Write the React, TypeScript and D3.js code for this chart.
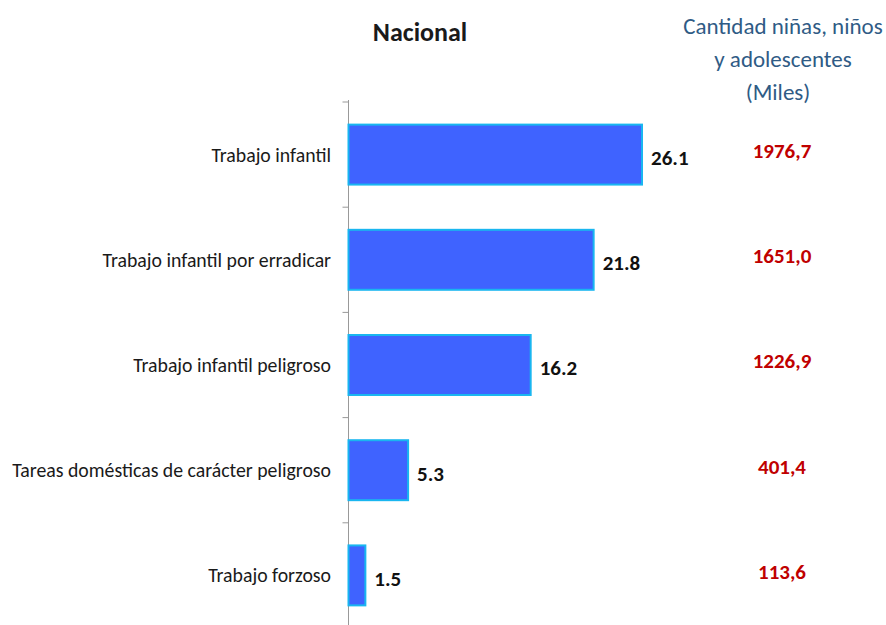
import React from "react";
import * as d3 from "d3";

const categories = [
  "Trabajo infantil",
  "Trabajo infantil por erradicar",
  "Trabajo infantil peligroso",
  "Tareas domésticas de carácter peligroso",
  "Trabajo forzoso",
];
const percentages = [26.1, 21.8, 16.2, 5.3, 1.5];
const counts = ["1976,7", "1651,0", "1226,9", "401,4", "113,6"];
const headerLines = ["Cantidad niñas, niños", "y adolescentes", "(Miles)"];
const title = "Nacional";

const W = 886;
const H = 625;
const FONT = "Carlito, Calibri, 'Liberation Sans Narrow', 'Open Sans', sans-serif";

export default function App() {
  const x0 = 348.5;
  const x = d3.scaleLinear().domain([0, 26.1]).range([x0, 642]);
  const y = d3
    .scaleBand<string>()
    .domain(categories)
    .range([102, 628])
    .paddingInner(0.43)
    .paddingOuter(0.215);
  const step = y.step();
  const ticks = d3.range(categories.length + 1).map((i) => 102 + i * step);

  return (
    <svg
      width={W}
      height={H}
      style={{ position: "absolute", left: 0, top: 0, background: "#fff" }}
      fontFamily={FONT}
    >
      <text x={420} y={41} textAnchor="middle" fontSize={26} fontWeight="bold" fill="#1a1a1a">
        {title}
      </text>
      {headerLines.map((l, i) => (
        <text
          key={l}
          x={i === 2 ? 778 : 783}
          y={34 + i * 33}
          textAnchor="middle"
          fontSize={23}
          fill="#2F5B85"
        >
          {l}
        </text>
      ))}
      <line x1={x0} x2={x0} y1={100} y2={H} stroke="#999" strokeWidth={1} />
      {ticks.map((t, i) => (
        <line key={i} x1={x0 - 6} x2={x0} y1={t} y2={t} stroke="#999" strokeWidth={1} />
      ))}
      {categories.map((c, i) => {
        const by = y(c)!;
        const bh = y.bandwidth();
        const cy = by + bh / 2;
        return (
          <g key={c}>
            <rect
              x={x0}
              y={by}
              width={x(percentages[i]) - x0}
              height={bh}
              fill="#3F63FF"
              stroke="#19B6F0"
              strokeWidth={2}
            />
            <text x={331} y={cy} dy="0.35em" textAnchor="end" fontSize={19.8} fill="#1a1a1a">
              {c}
            </text>
            <text
              x={x(percentages[i]) + 9}
              y={cy + 3}
              dy="0.35em"
              fontSize={21}
              fontWeight="bold"
              fill="#111"
            >
              {percentages[i].toFixed(1)}
            </text>
            <text
              x={782}
              y={cy - 4}
              dy="0.35em"
              textAnchor="middle"
              fontSize={21}
              fontWeight="bold"
              fill="#C00000"
            >
              {counts[i]}
            </text>
          </g>
        );
      })}
    </svg>
  );
}
